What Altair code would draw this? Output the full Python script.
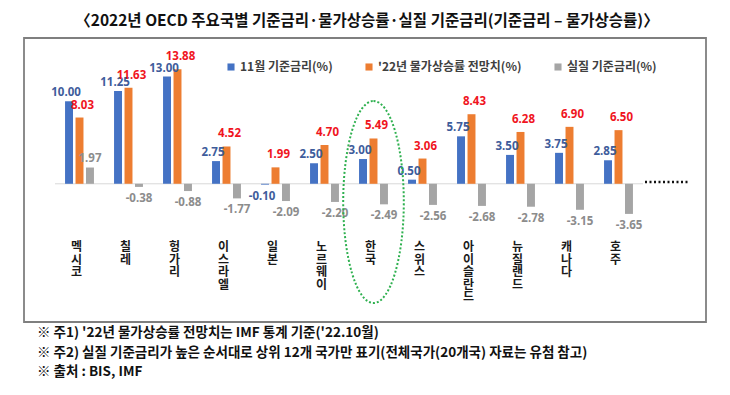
import altair as alt
import pandas as pd

countries = ["멕시코", "칠레", "헝가리", "이스라엘", "일본", "노르웨이",
             "한국", "스위스", "아이슬란드", "뉴질랜드", "캐나다", "호주"]
policy_rate = [10.00, 11.25, 13.00, 2.75, -0.10, 2.50, 3.00, 0.50, 5.75, 3.50, 3.75, 2.85]
inflation = [8.03, 11.63, 13.88, 4.52, 1.99, 4.70, 5.49, 3.06, 8.43, 6.28, 6.90, 6.50]
real_rate = [1.97, -0.38, -0.88, -1.77, -2.09, -2.20, -2.49, -2.56, -2.68, -2.78, -3.15, -3.65]

series_names = ["11월 기준금리(%)", "'22년 물가상승률 전망치(%)", "실질 기준금리(%)"]
bar_colors = ["#4472C4", "#ED7D31", "#A5A5A5"]
label_colors = ["#3E5C9B", "#F0141E", "#8C8C8C"]
label_dx = [-3, 3, 0]
label_dy_pos = [-5, -9, -6]

title_text = "〈2022년 OECD 주요국별 기준금리·물가상승률·실질 기준금리(기준금리 – 물가상승률)〉"
notes = [
    "※ 주1) '22년 물가상승률 전망치는 IMF 통계 기준('22.10월)",
    "※ 주2) 실질 기준금리가 높은 순서대로 상위 12개 국가만 표기(전체국가(20개국) 자료는 유첨 참고)",
    "※ 출처 : BIS, IMF",
]
highlight = "한국"

KR = "Noto Sans CJK KR"
NUM = "Noto Sans"

rows = []
for i, c in enumerate(countries):
    for s, vals in zip(series_names, [policy_rate, inflation, real_rate]):
        rows.append({"country": c, "series": s, "value": vals[i], "label": f"{vals[i]:.2f}"})
df = pd.DataFrame(rows)

W, H = 588, 170

x_enc = alt.X("country:N", scale=alt.Scale(domain=countries, paddingInner=0.41, paddingOuter=0.205), axis=None)
xo_enc = alt.XOffset("series:N", scale=alt.Scale(domain=series_names, paddingInner=0.24, paddingOuter=0))
y_enc = alt.Y("value:Q", scale=alt.Scale(domain=[-5.6, 15], nice=False, zero=False), axis=None)

one = pd.DataFrame({"a": [0]})

box = alt.Chart(one).mark_rect(fillOpacity=0, stroke="#7F7F7F", strokeWidth=1.8).encode(
    x=alt.value(-31), x2=alt.value(651), y=alt.value(-22), y2=alt.value(262))

baseline = alt.Chart(one).mark_rule(color="#D9D9D9", strokeWidth=1).encode(
    y=alt.value(H * 15 / 20.6), x=alt.value(0), x2=alt.value(W))

bars = alt.Chart(df).mark_bar().encode(
    x=x_enc, xOffset=xo_enc, y=y_enc,
    color=alt.Color("series:N", scale=alt.Scale(domain=series_names, range=bar_colors),
                    legend=alt.Legend(orient="none", legendX=170, legendY=1, direction="horizontal",
                                      title=None, symbolType="square", symbolSize=50,
                                      symbolStrokeWidth=0, labelFont=KR, labelFontSize=12,
                                      labelFontWeight="bold", labelColor="#404040",
                                      columnPadding=30, labelOffset=3)),
)

label_layers = []
for s, col, ddx, ddy in zip(series_names, label_colors, label_dx, label_dy_pos):
    base = alt.Chart(df).transform_filter(alt.FieldOneOfPredicate(field="series", oneOf=[s]))
    pos = base.transform_filter(alt.FieldGTEPredicate(field="value", gte=0)).mark_text(
        baseline="alphabetic", dy=ddy, dx=ddx, color=col, font=NUM, fontSize=11.5, fontWeight="bold"
    ).encode(x=x_enc, xOffset=xo_enc, y=y_enc, text="label:N")
    neg = base.transform_filter(alt.FieldLTPredicate(field="value", lt=0)).mark_text(
        baseline="top", dy=6, dx=ddx, color=col, font=NUM, fontSize=11.5, fontWeight="bold"
    ).encode(x=x_enc, xOffset=xo_enc, y=y_enc, text="label:N")
    label_layers += [pos, neg]

cdf = pd.DataFrame({"country": countries, "series": [series_names[1]] * len(countries),
                    "vlabel": ["\n".join(c) for c in countries]})
xlabels = alt.Chart(cdf).mark_text(
    lineBreak="\n", baseline="top", font=KR, fontSize=12, fontWeight="bold",
    lineHeight=12.5, color="#1A1A1A", dx=-3
).encode(x=x_enc, xOffset=xo_enc, y=alt.value(182), text="vlabel:N")

rx = 0.30
k = 0.5523
path = (f"M 0 -1 C {rx*k:.4f} -1 {rx} -{k} {rx} 0 "
        f"C {rx} {k} {rx*k:.4f} 1 0 1 "
        f"C -{rx*k:.4f} 1 -{rx} {k} -{rx} 0 "
        f"C -{rx} -{k} -{rx*k:.4f} -1 0 -1 Z")
ellipse = alt.Chart(pd.DataFrame({"country": [highlight], "series": [series_names[1]]})).mark_point(
    shape=path, size=202 * 202, filled=False, stroke="#2EB04F", strokeWidth=2,
    strokeDash=[2, 2], opacity=1
).encode(x=x_enc, xOffset=xo_enc, y=alt.value(142))

dots = alt.Chart(one).mark_rule(color="#111111", strokeWidth=2.5, strokeDash=[2, 2.5]).encode(
    x=alt.value(590), x2=alt.value(633), y=alt.value(122))

title = alt.Chart(one).mark_text(
    text=title_text, font=KR, fontSize=15.5, fontWeight="bold", color="#111111",
    align="center", baseline="middle"
).encode(x=alt.value(312), y=alt.value(-39))

note_layers = []
for i, t in enumerate(notes):
    note_layers.append(alt.Chart(one).mark_text(
        text=t, font=KR, fontSize=13.5, fontWeight="bold", color="#111111",
        align="left", baseline="middle"
    ).encode(x=alt.value(-18), y=alt.value(273 + 19.5 * i)))

chart = alt.layer(box, baseline, bars, *label_layers, xlabels, ellipse, dots, title, *note_layers).properties(
    width=W, height=H,
    padding={"left": 47, "top": 52, "right": 79, "bottom": 157},
    autosize=alt.AutoSizeParams(type="none"),
).configure_view(stroke=None)

chart.save("out.html", embed_options={"renderer": "svg", "actions": False})
